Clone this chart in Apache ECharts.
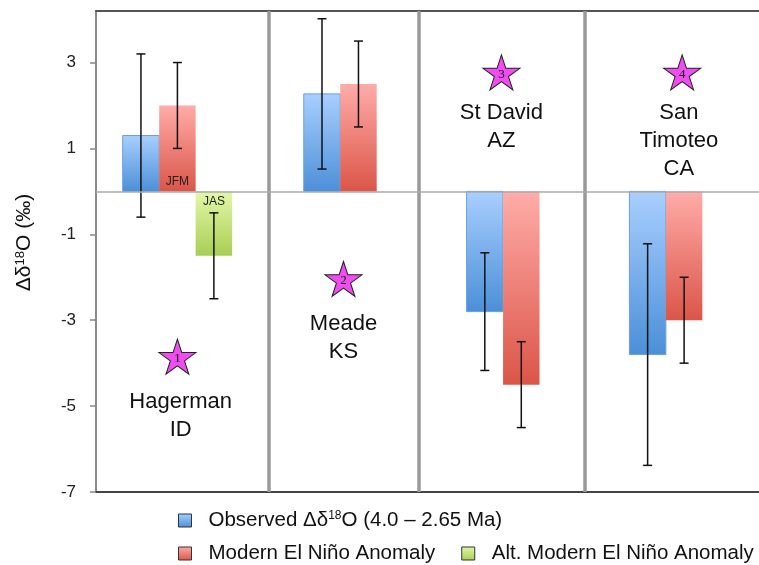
<!DOCTYPE html>
<html><head><meta charset="utf-8">
<script src="https://cdn.jsdelivr.net/npm/echarts@6/dist/echarts.min.js"></script>
<style>html,body{margin:0;padding:0;background:#fff}#c{width:759px;height:565px}</style>
</head><body><div id="c"></div>
<script>
// ---- data ----
const sites = ['Hagerman\nID', 'Meade\nKS', 'St David\nAZ', 'San\nTimoteo\nCA'];
const siteNumbers = ['1', '2', '3', '4'];
const observed = [1.3, 2.27, -2.8, -3.8];
const observedErr = [1.9, 1.75, 1.37, 2.58];
const modern = [2.0, 2.5, -4.5, -3.0];
const modernErr = [1.0, 1.0, 1.0, 1.0];
const altModern = [-1.5, null, null, null];
const altModernErr = [1.0, null, null, null];
const modernSeason = ['JFM', '', '', ''];
const altSeason = ['JAS', '', '', ''];
const yTicks = [-7, -5, -3, -1, 1, 3];
const seriesNames = ['Observed Δδ18O (4.0 – 2.65 Ma)', 'Modern El Niño Anomaly', 'Alt. Modern El Niño Anomaly'];

// ---- layout (axis units) ----
const X_MAX = 4.072;
const BAR_W = 0.224;
const starPos = [[0.5, -3.85], [1.52, -2.04], [2.49, 2.77], [3.6, 2.77]];
const labelPos = [[0.52, -5.23], [1.52, -3.41], [2.49, 1.5], [3.58, 1.18]];
const separators = [1.057, 1.98, 3.0];

const STAR = 'path://M50 0 L61.23 34.55 L97.55 34.55 L68.17 55.9 L79.39 90.45 L50 69.1 L20.61 90.45 L31.83 55.9 L2.45 34.55 L38.77 34.55 Z';
const FONT = 'Liberation Sans, Arial, sans-serif';

function grad(top, bottom) {
  return new echarts.graphic.LinearGradient(0, 0, 0, 1, [{offset: 0, color: top}, {offset: 1, color: bottom}]);
}
const palette = [
  ['#a9cfff', '#4b8fd8', '#6b9fdc'],
  ['#ffaca8', '#db5548', null],
  ['#e3f8a8', '#a8ce55', null]
];
const valueSets = [observed, modern, altModern];
const errSets = [observedErr, modernErr, altModernErr];
const seasonSets = [null, modernSeason, altSeason];

function barsIn(cat) { return valueSets.filter(a => a[cat] != null).length; }
function slotOf(k, cat) { let s = 0; for (let j = 0; j < k; j++) if (valueSets[j][cat] != null) s++; return s; }

function makeBarSeries(k) {
  const vals = valueSets[k], errs = errSets[k], seasons = seasonSets[k];
  const data = [];
  vals.forEach((v, i) => { if (v != null) data.push([i, v, errs[i]]); });
  return {
    type: 'custom', name: seriesNames[k], xAxisIndex: 0, yAxisIndex: 0, z: 3,
    data: data,
    renderItem(params, api) {
      const cat = api.value(0), v = api.value(1), e = api.value(2);
      const n = barsIn(cat), slot = slotOf(k, cat);
      const xc = cat + 0.5 + (slot - (n - 1) / 2) * BAR_W;
      const a = api.coord([xc - BAR_W / 2, 0]);
      const b = api.coord([xc + BAR_W / 2, v]);
      const x = Math.min(a[0], b[0]), y = Math.min(a[1], b[1]);
      const w = Math.abs(b[0] - a[0]), h = Math.abs(b[1] - a[1]);
      const cx = api.coord([xc, 0])[0];
      const zeroY = a[1];
      const hi = api.coord([xc, v + e])[1], lo = api.coord([xc, v - e])[1];
      const cap = 4.5;
      const errStyle = {stroke: '#111', lineWidth: 1.5};
      const children = [
        {type: 'rect', shape: {x: x, y: y, width: w, height: h},
         style: {fill: grad(palette[k][0], palette[k][1]), stroke: palette[k][2] || null, lineWidth: palette[k][2] ? 1 : 0}},
        {type: 'line', shape: {x1: cx, y1: hi, x2: cx, y2: lo}, style: errStyle},
        {type: 'line', shape: {x1: cx - cap, y1: hi, x2: cx + cap, y2: hi}, style: errStyle},
        {type: 'line', shape: {x1: cx - cap, y1: lo, x2: cx + cap, y2: lo}, style: errStyle}
      ];
      const season = seasons ? seasons[cat] : '';
      if (season) {
        children.push({type: 'text', style: {text: season, x: cx, y: v >= 0 ? zeroY - 10 : zeroY + 10,
          align: 'center', verticalAlign: 'middle', fontSize: 12, fontFamily: FONT, fill: '#222'}});
      }
      return {type: 'group', children: children};
    }
  };
}

function legendFmt(name) { return name.replace('18', '{s|18}'); }
const legendText = {fontSize: 20.5, color: '#111', fontFamily: FONT, padding: [0, 0, 0, 12],
  rich: {s: {fontSize: 12, fontFamily: FONT, color: '#111', verticalAlign: 'top'}}};
function legendItem(k) {
  return {name: seriesNames[k], icon: 'rect',
    itemStyle: {color: grad(palette[k][0], palette[k][1]), borderColor: '#333', borderWidth: 1}};
}

const chart = echarts.init(document.getElementById('c'), null, {renderer: 'canvas'});
chart.setOption({
  animation: false,
  backgroundColor: '#fff',
  grid: {left: 96, right: 0, top: 11, bottom: 73, containLabel: false, outerBoundsMode: 'none'},
  xAxis: [
    {type: 'value', min: 0, max: X_MAX, position: 'bottom',
     axisLine: {show: true, onZero: false, lineStyle: {color: '#444', width: 2}},
     axisTick: {show: false}, axisLabel: {show: false}, splitLine: {show: false}},
    {type: 'value', min: 0, max: X_MAX, position: 'top',
     axisLine: {show: true, onZero: false, lineStyle: {color: '#555', width: 2}},
     axisTick: {show: false}, axisLabel: {show: false}, splitLine: {show: false}}
  ],
  yAxis: {
    type: 'value', min: -7, max: 4.2, interval: 2,
    axisLine: {show: true, onZero: false, lineStyle: {color: '#888', width: 2}},
    axisTick: {show: true, length: 6, customValues: yTicks, lineStyle: {color: '#888', width: 1.5}},
    axisLabel: {customValues: yTicks, fontSize: 17, color: '#222', fontFamily: FONT, margin: 20},
    splitLine: {show: false},
    name: '{a|Δδ}{s|18}{a|O (‰)}', nameLocation: 'middle', nameGap: 61, nameRotate: 90,
    nameTextStyle: {padding: [0, 0, 0, 18], rich: {
      a: {fontSize: 21, color: '#111', fontFamily: FONT},
      s: {fontSize: 13, color: '#111', fontFamily: FONT, verticalAlign: 'top'}
    }}
  },
  legend: [
    {data: [legendItem(0)], left: 173, top: 505, itemWidth: 13, itemHeight: 13, itemGap: 26,
     textStyle: legendText, formatter: legendFmt, selectedMode: false},
    {data: [legendItem(1), legendItem(2)], left: 173, top: 538, itemWidth: 13, itemHeight: 13, itemGap: 26,
     textStyle: legendText, formatter: legendFmt, selectedMode: false}
  ],
  series: [
    {type: 'scatter', name: 'labels', xAxisIndex: 0, yAxisIndex: 0, silent: true, z: 1,
     data: labelPos.map((p, i) => ({value: p, label: {formatter: sites[i]}})),
     symbolSize: 1, itemStyle: {color: 'rgba(0,0,0,0)', opacity: 1},
     label: {show: true, position: 'inside', fontSize: 22, lineHeight: 28, color: '#111', fontFamily: FONT, align: 'center'},
     markLine: {silent: true, symbol: ['none', 'none'], label: {show: false},
       lineStyle: {color: '#999', width: 3.5, type: 'solid'},
       data: separators.map(s => ({xAxis: s})).concat([{yAxis: 0, lineStyle: {color: '#aaa', width: 1.5, type: 'solid'}}])}
    },
    {type: 'scatter', name: 'stars', xAxisIndex: 0, yAxisIndex: 0, silent: true, z: 4,
     data: starPos.map((p, i) => ({value: p, label: {formatter: siteNumbers[i]}})),
     symbol: STAR, symbolSize: [37, 35],
     itemStyle: {color: '#ef4def', borderColor: '#222', borderWidth: 1, opacity: 1},
     label: {show: true, position: 'inside', fontSize: 13, fontFamily: 'Liberation Serif, serif', color: '#111', offset: [0, 2]}
    },
    makeBarSeries(0), makeBarSeries(1), makeBarSeries(2)
  ]
});
</script></body></html>
